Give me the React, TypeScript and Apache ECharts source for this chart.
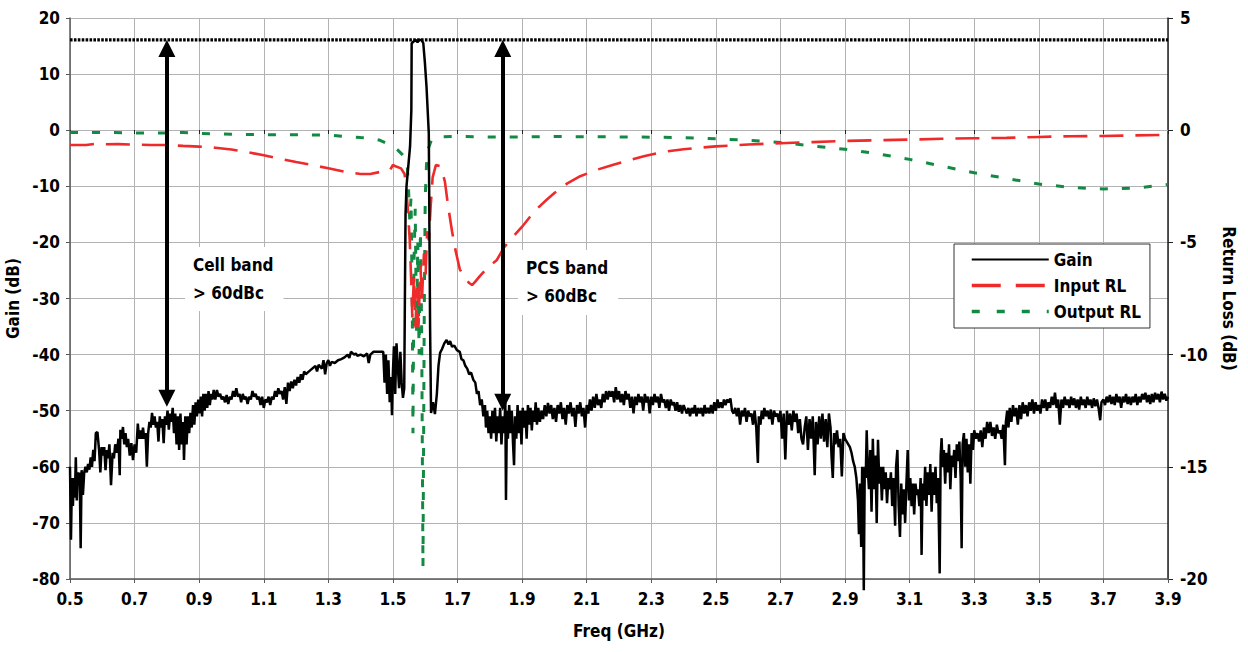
import React, { useEffect, useRef } from "react";
import * as echarts from "echarts";

const FONT = "'DejaVu Sans Condensed', 'Liberation Sans Narrow', 'Arial Narrow', sans-serif";

// Frequency axis ticks (GHz)
const freqMin = 0.5;
const freqMax = 3.9;
const freqStep = 0.2;

// Gain (dB) vs frequency (GHz), left axis
const gain: [number, number][] = [
  [0.500,-60],[0.503,-73],[0.506,-62],[0.509,-67],[0.512,-62],[0.515,-65.5],[0.518,-58.3],[0.521,-66],[0.524,-61],[0.527,-63],
  [0.530,-61],[0.533,-74.5],[0.536,-60.6],[0.540,-65],[0.544,-61],[0.548,-60],[0.552,-61],[0.556,-59.5],[0.560,-60.5],[0.564,-58.3],
  [0.568,-60],[0.572,-57],[0.576,-59],[0.580,-54],[0.585,-53.8],[0.590,-57],[0.594,-61],[0.598,-56.5],[0.602,-58],[0.606,-56.5],
  [0.610,-60.6],[0.614,-57],[0.618,-58.5],[0.622,-56],[0.627,-63.3],[0.632,-57.5],[0.636,-58.5],[0.640,-56],[0.645,-57.5],[0.650,-55],
  [0.654,-61.5],[0.656,-53.4],[0.660,-55],[0.664,-52.9],[0.668,-56],[0.672,-54],[0.676,-56.5],[0.680,-55],[0.685,-58],[0.690,-55.8],
  [0.695,-58.8],[0.700,-56],[0.705,-57.5],[0.710,-52.3],[0.714,-55],[0.718,-53.5],[0.722,-55],[0.726,-53],[0.730,-55],[0.734,-54],
  [0.738,-60],[0.742,-54],[0.746,-52],[0.750,-53],[0.754,-50.4],[0.758,-52.5],[0.762,-51],[0.766,-53],[0.770,-52],[0.774,-55.5],
  [0.778,-51],[0.782,-53],[0.786,-51.5],[0.790,-55.8],[0.794,-51],[0.798,-52.5],[0.802,-50],[0.806,-53.4],[0.810,-50.5],[0.814,-52],
  [0.818,-49.5],[0.822,-54],[0.826,-50.5],[0.830,-56],[0.834,-51],[0.838,-57],[0.842,-50.5],[0.846,-56],[0.850,-52],[0.853,-58.8],
  [0.857,-51],[0.861,-56],[0.865,-51],[0.869,-54],[0.873,-50.4],[0.877,-53],[0.881,-49],[0.885,-52.5],[0.889,-48.5],[0.893,-51],
  [0.897,-48],[0.901,-50.5],[0.905,-47.5],[0.909,-51],[0.913,-47],[0.917,-50],[0.921,-47],[0.925,-49.5],[0.929,-46.5],[0.933,-49],
  [0.937,-47],[0.941,-48],[0.945,-46.3],[0.950,-48],[0.955,-46.3],[0.960,-47.5],[0.965,-47],[0.970,-48],[0.975,-47.5],[0.980,-48.5],
  [0.985,-47.2],[0.990,-48.8],[0.995,-47.5],[1.000,-48],[1.005,-46.5],[1.010,-47.5],[1.015,-46],[1.020,-47.5],[1.025,-47],[1.030,-48.5],
  [1.035,-47],[1.040,-48],[1.045,-47.5],[1.050,-48.8],[1.055,-47.5],[1.060,-48],[1.065,-46.5],[1.070,-47.5],[1.075,-47],[1.080,-48],
  [1.085,-47.5],[1.090,-49],[1.095,-47.5],[1.100,-49.5],[1.105,-48],[1.110,-48.5],[1.115,-47.5],[1.120,-49],[1.125,-47.5],[1.130,-48],
  [1.135,-46.5],[1.140,-47.5],[1.145,-46],[1.150,-47],[1.155,-46.5],[1.160,-48],[1.165,-45.8],[1.170,-48.8],[1.175,-45],[1.180,-46.5],
  [1.185,-44.8],[1.190,-46],[1.195,-44.5],[1.200,-45.5],[1.205,-44],[1.210,-45],[1.215,-43.5],[1.220,-44.5],[1.225,-43],[1.230,-43.5],
  [1.240,-43],[1.250,-42.5],[1.260,-42],[1.265,-43],[1.270,-41.8],[1.280,-42.5],[1.285,-41],[1.290,-43.5],[1.295,-41.5],[1.300,-41],
  [1.305,-42],[1.310,-41.3],[1.320,-41.5],[1.330,-41],[1.340,-40.8],[1.350,-40.5],[1.360,-40],[1.365,-40.6],[1.370,-39.5],[1.380,-40],
  [1.385,-39.8],[1.390,-40.2],[1.400,-40],[1.410,-40.3],[1.420,-39.8],[1.425,-41.5],[1.430,-40],[1.440,-39.5],[1.450,-39.5],[1.460,-39.5],
  [1.470,-39.5],[1.474,-45],[1.478,-40],[1.482,-47],[1.486,-41],[1.490,-48.5],[1.494,-44],[1.497,-50.8],[1.500,-43],[1.503,-38.5],
  [1.507,-47],[1.511,-38],[1.515,-42],[1.519,-46],[1.523,-39.5],[1.527,-45],[1.531,-47.7],[1.535,-46],[1.537,-30],[1.539,-15],
  [1.542,-10],[1.553,-2.9],[1.557,3.6],[1.558,15.5],[1.564,15.8],[1.570,16.1],[1.576,15.7],[1.582,16.1],[1.588,16.1],[1.594,15.5],
  [1.599,12],[1.604,7.7],[1.611,-0.5],[1.615,-35],[1.618,-50.4],[1.624,-48.5],[1.630,-50.6],[1.636,-47],[1.641,-42],[1.646,-39.7],
  [1.652,-39],[1.659,-38],[1.666,-37.4],[1.672,-38.2],[1.677,-37.6],[1.683,-38.6],[1.690,-38.4],[1.698,-39.2],
  [1.707,-39.5],[1.712,-40.8],[1.718,-41],[1.724,-42],[1.730,-42.5],[1.736,-43.5],[1.742,-43.2],[1.749,-44.5],
  [1.755,-45],[1.760,-47],[1.765,-46.5],[1.770,-49],[1.775,-48],[1.780,-51],[1.785,-49],[1.788,-53],[1.792,-50],[1.796,-54],
  [1.800,-51],[1.804,-55],[1.808,-50],[1.812,-54],[1.816,-49.5],[1.820,-55.5],[1.824,-51],[1.828,-54],[1.832,-49.5],[1.836,-56],
  [1.840,-51],[1.844,-54],[1.848,-48.5],[1.850,-65.9],[1.853,-50],[1.856,-55],[1.860,-49],[1.864,-54],[1.868,-50],[1.872,-56],
  [1.875,-59.7],[1.878,-51],[1.882,-55],[1.886,-49],[1.890,-54],[1.894,-50],[1.898,-56],[1.902,-49.5],[1.906,-53],[1.910,-50],
  [1.914,-55],[1.918,-49],[1.922,-52.5],[1.926,-49.5],[1.930,-53.5],[1.934,-50],[1.938,-52],[1.942,-48.5],[1.946,-52.5],[1.950,-49.5],
  [1.955,-52],[1.960,-50],[1.965,-51.5],[1.970,-49],[1.975,-51],[1.980,-48.6],[1.985,-50.5],[1.990,-49],[1.995,-51.5],[2.000,-49.5],
  [2.005,-52],[2.010,-49],[2.015,-50.5],[2.020,-48.5],[2.025,-51.5],[2.030,-49.5],[2.035,-52.5],[2.040,-49],[2.045,-50.5],[2.050,-48.5],
  [2.055,-51],[2.060,-49.5],[2.065,-52.9],[2.070,-49],[2.075,-50.5],[2.080,-48.5],[2.085,-51],[2.090,-49.5],[2.095,-53],[2.100,-49],
  [2.105,-50.5],[2.110,-48],[2.115,-50],[2.120,-47.5],[2.125,-49.5],[2.130,-47],[2.135,-49],[2.140,-48],[2.145,-49.5],[2.150,-47],
  [2.155,-48.5],[2.160,-46.5],[2.165,-48],[2.170,-46.5],[2.175,-47.5],[2.180,-46.5],[2.185,-48.5],[2.190,-45.8],[2.195,-48],[2.200,-46.5],
  [2.205,-48.5],[2.210,-47],[2.215,-49],[2.220,-46.5],[2.225,-48],[2.230,-47],[2.235,-49.5],[2.240,-47.5],[2.245,-50.5],[2.250,-47.5],
  [2.255,-49],[2.260,-47],[2.265,-48.5],[2.270,-47.5],[2.275,-50],[2.280,-47],[2.285,-48.5],[2.290,-47.5],[2.295,-50.5],[2.300,-47.5],
  [2.305,-49],[2.310,-47],[2.315,-48.5],[2.320,-47.5],[2.325,-49.5],[2.330,-47],[2.335,-48.5],[2.340,-48],[2.345,-49.5],[2.350,-48],
  [2.355,-50],[2.360,-48],[2.365,-49],[2.370,-48.5],[2.375,-50],[2.380,-48.5],[2.385,-50.2],[2.390,-49],[2.395,-50.5],[2.400,-49],
  [2.410,-50.5],[2.415,-49.5],[2.420,-51],[2.425,-49.5],[2.430,-50.5],[2.435,-49],[2.440,-51],[2.445,-49.5],[2.450,-50.5],[2.455,-49.5],
  [2.460,-51],[2.465,-49],[2.470,-50.5],[2.475,-49.5],[2.480,-50.5],[2.485,-49],[2.490,-50.5],[2.495,-48.5],[2.500,-50],[2.505,-48],
  [2.510,-49.5],[2.515,-48.5],[2.520,-49.5],[2.525,-48],[2.530,-49],[2.535,-48],[2.540,-48.5],[2.545,-47.8],[2.550,-50],[2.555,-50.5],
  [2.560,-49.5],[2.565,-51],[2.570,-49.5],[2.575,-52.5],[2.580,-50],[2.585,-51],[2.590,-49.5],[2.595,-52],[2.600,-50],[2.605,-51],
  [2.610,-50.5],[2.615,-52.5],[2.620,-50],[2.625,-53],[2.630,-59.3],[2.633,-51],[2.638,-52.5],[2.642,-50],[2.646,-51.5],[2.650,-49.5],
  [2.655,-51],[2.660,-50],[2.665,-51.5],[2.670,-49.8],[2.675,-52.5],[2.680,-50],[2.685,-51],[2.690,-50.5],[2.695,-52],[2.700,-50],
  [2.705,-55],[2.710,-50.5],[2.715,-58.7],[2.720,-50],[2.725,-52.5],[2.730,-50.5],[2.735,-53.5],[2.740,-50],[2.745,-52],[2.750,-50.5],
  [2.755,-54],[2.760,-51.5],[2.765,-55],[2.770,-56],[2.775,-53],[2.780,-51],[2.785,-57],[2.790,-51.5],[2.795,-55],[2.800,-51],
  [2.806,-61.5],[2.810,-52],[2.815,-56],[2.820,-51],[2.825,-55],[2.830,-50.5],[2.835,-55.5],[2.840,-51.5],[2.845,-56.5],[2.850,-50.5],
  [2.855,-53],[2.858,-58],[2.862,-62],[2.866,-54],[2.870,-56],[2.875,-53.5],[2.880,-56.5],[2.885,-55],[2.890,-61.7],[2.895,-54],
  [2.900,-55],[2.905,-55.5],[2.910,-56],[2.915,-56.5],[2.920,-57.5],[2.925,-59],[2.930,-60],[2.935,-62],[2.940,-66],[2.943,-72],
  [2.946,-63],[2.950,-74.3],[2.953,-60],[2.956,-67],[2.958,-82],[2.961,-60],[2.964,-62],[2.967,-53.5],[2.970,-60],[2.974,-64],
  [2.978,-57],[2.982,-68],[2.986,-55],[2.990,-64],[2.994,-58],[2.998,-70],[3.002,-55.2],[3.006,-63],[3.010,-60],[3.014,-66],
  [3.018,-60],[3.022,-64],[3.026,-61],[3.030,-66.5],[3.034,-62],[3.038,-64],[3.042,-61],[3.046,-67],[3.050,-62],[3.055,-70.5],
  [3.058,-60],[3.062,-57],[3.066,-67],[3.070,-72.5],[3.074,-63],[3.078,-68.5],[3.082,-64],[3.086,-70],[3.090,-63],[3.094,-57],
  [3.098,-66],[3.102,-62],[3.106,-67],[3.110,-63],[3.114,-68.5],[3.118,-63],[3.122,-65],[3.126,-64],[3.130,-67],[3.134,-62],
  [3.137,-75.7],[3.140,-63],[3.144,-66],[3.148,-60],[3.152,-67],[3.156,-61],[3.160,-65],[3.164,-59.5],[3.168,-68],[3.172,-61],
  [3.176,-65],[3.180,-60],[3.184,-66.5],[3.188,-62],[3.193,-79],[3.196,-58],[3.199,-54.9],[3.202,-60],[3.206,-57],[3.210,-63],
  [3.214,-57.5],[3.218,-61],[3.222,-56],[3.226,-64],[3.230,-58],[3.234,-60],[3.238,-57],[3.242,-62],[3.246,-56],[3.250,-59],
  [3.254,-55.5],[3.258,-62],[3.261,-74.5],[3.264,-56],[3.268,-54],[3.272,-60],[3.276,-55],[3.280,-61],[3.284,-56],[3.288,-63],
  [3.292,-54],[3.296,-57],[3.300,-53.5],[3.305,-55],[3.310,-54],[3.315,-55.5],[3.320,-53.5],[3.325,-56.5],[3.330,-53],[3.335,-55],
  [3.340,-52],[3.345,-54],[3.350,-52],[3.355,-54.5],[3.360,-53],[3.365,-55],[3.370,-52.5],[3.375,-54],[3.380,-53.5],[3.385,-55],
  [3.390,-52.5],[3.395,-59.7],[3.398,-52],[3.402,-50],[3.406,-53],[3.410,-49.5],[3.415,-52],[3.420,-49],[3.425,-51],[3.430,-49.5],
  [3.435,-52.5],[3.440,-49],[3.445,-51.5],[3.450,-48.5],[3.455,-50.5],[3.460,-49],[3.465,-51],[3.470,-48.5],[3.475,-50],[3.480,-48],
  [3.485,-50.5],[3.490,-48.5],[3.495,-50],[3.500,-49],[3.505,-50.5],[3.510,-48],[3.515,-49.5],[3.520,-48],[3.525,-50],[3.530,-48.5],
  [3.535,-49.5],[3.540,-47.5],[3.545,-49],[3.550,-46.8],[3.555,-49.5],[3.560,-48],[3.565,-52.5],[3.570,-48],[3.575,-49.5],[3.580,-47.5],
  [3.585,-49],[3.590,-48],[3.595,-49.5],[3.600,-47.5],[3.605,-49],[3.610,-47.8],[3.615,-49.5],[3.620,-48],[3.625,-49.8],[3.630,-47.5],
  [3.635,-49],[3.640,-48],[3.645,-49.5],[3.650,-47.5],[3.655,-49],[3.660,-48],[3.665,-49.5],[3.670,-47.8],[3.675,-49.2],[3.680,-48],
  [3.685,-49.5],[3.690,-51.7],[3.694,-48.5],[3.700,-48],[3.705,-49],[3.710,-47.5],[3.715,-48.5],[3.720,-47.2],[3.725,-48.8],[3.730,-47.5],
  [3.735,-49],[3.740,-47],[3.745,-48.5],[3.750,-47.5],[3.755,-49.5],[3.760,-47.5],[3.765,-48.5],[3.770,-47],[3.775,-48.8],[3.780,-47.5],
  [3.785,-49],[3.790,-47.5],[3.795,-48.5],[3.800,-47],[3.805,-49],[3.810,-47.5],[3.815,-48.5],[3.820,-47],[3.825,-48],[3.830,-46.8],
  [3.835,-48.5],[3.840,-47.2],[3.845,-48.8],[3.850,-47],[3.855,-48.5],[3.860,-46.8],[3.865,-48],[3.870,-47],[3.875,-48.5],[3.880,-46.6],
  [3.885,-48],[3.890,-47],[3.895,-48.2],[3.900,-47.5],
];

// Input return loss (dB), right axis
const inputRL: [number, number][] = [
  [0.50,-0.66],[0.55,-0.66],[0.58,-0.60],[0.60,-0.63],[0.65,-0.62],[0.70,-0.64],[0.75,-0.66],[0.80,-0.66],[0.85,-0.70],[0.90,-0.73],
  [0.95,-0.78],[1.00,-0.86],[1.05,-0.98],[1.10,-1.12],[1.15,-1.27],[1.20,-1.42],[1.25,-1.55],[1.30,-1.70],[1.35,-1.85],[1.40,-1.95],
  [1.43,-1.95],[1.46,-1.86],[1.49,-1.80],[1.50,-1.55],[1.51,-1.62],[1.525,-1.70],[1.536,-1.95],[1.541,-2.6],[1.546,-3.5],[1.552,-4.9],
  [1.556,-6.5],[1.560,-8.35],[1.565,-6.5],[1.570,-8.8],[1.575,-7],[1.579,-8.8],[1.585,-6],[1.590,-7.5],[1.596,-5.5],[1.601,-6.5],
  [1.606,-4.5],[1.611,-4.9],[1.617,-3.35],[1.623,-2.1],[1.633,-1.55],[1.645,-1.6],[1.652,-1.8],[1.661,-2.3],[1.671,-3.4],[1.683,-4.5],
  [1.693,-5.3],[1.707,-6.2],[1.72,-6.5],[1.735,-6.8],[1.745,-6.9],[1.755,-6.75],[1.769,-6.5],[1.795,-6.1],[1.821,-5.8],
  [1.845,-5.2],[1.872,-4.75],[1.90,-4.3],[1.924,-3.87],[1.95,-3.45],[1.976,-3.1],[2.00,-2.8],[2.04,-2.37],[2.08,-2.05],[2.13,-1.77],
  [2.18,-1.55],[2.234,-1.33],[2.28,-1.15],[2.336,-0.97],[2.40,-0.85],[2.45,-0.78],[2.50,-0.72],[2.60,-0.64],[2.70,-0.58],[2.80,-0.53],
  [2.90,-0.48],[3.00,-0.45],[3.10,-0.42],[3.20,-0.38],[3.30,-0.36],[3.40,-0.34],[3.50,-0.30],[3.60,-0.27],[3.70,-0.26],[3.80,-0.23],
  [3.90,-0.21],
];

// Output return loss (dB), right axis
const outputRL: [number, number][] = [
  [0.50,-0.10],[0.60,-0.10],[0.70,-0.12],[0.80,-0.12],[0.85,-0.10],[0.90,-0.15],[1.00,-0.18],[1.10,-0.20],[1.20,-0.20],[1.30,-0.22],
  [1.35,-0.28],[1.40,-0.33],[1.43,-0.35],[1.46,-0.45],[1.48,-0.58],[1.50,-0.70],[1.516,-0.9],[1.53,-1.1],[1.543,-1.3],[1.548,-2.5],
  [1.552,-4],[1.556,-3],[1.560,-8],[1.562,-13.5],[1.565,-6],[1.569,-3.5],[1.573,-9],[1.577,-5],[1.581,-10],[1.585,-4.5],
  [1.589,-9],[1.593,-19.45],[1.597,-8],[1.600,-3],[1.604,-1.5],[1.610,-0.8],[1.62,-0.4],[1.64,-0.3],[1.70,-0.28],
  [1.80,-0.30],[1.90,-0.30],[2.00,-0.28],[2.10,-0.29],[2.20,-0.30],[2.30,-0.31],[2.40,-0.33],[2.50,-0.38],[2.60,-0.45],[2.70,-0.55],
  [2.80,-0.70],[2.90,-0.85],[3.00,-1.05],[3.10,-1.30],[3.20,-1.60],[3.30,-1.90],[3.40,-2.15],[3.50,-2.40],[3.60,-2.55],[3.70,-2.62],
  [3.80,-2.58],[3.90,-2.42],
];

// Reference level (peak gain) and rejection arrows
const peakLevel = 16.1;
const arrowFreqs = [0.8, 1.84];
const arrowBottoms = [-49.3, -50];
const bandLabels = ["Cell band\n> 60dBc", "PCS band\n> 60dBc"];

const GRID = { left: 70, right: 80, top: 18, bottom: 73 };
const HEIGHT = 652;
const HEAD = 17;

export default function App() {
  const ref = useRef<HTMLDivElement>(null);
  useEffect(() => {
    if (!ref.current) return;
    const chart = echarts.init(ref.current, undefined, { renderer: "svg" });
    const txt = { fontFamily: FONT, fontWeight: "bold" as const, color: "#000", fontSize: 17 };
    const axisColor = "#5a5a5a";
    const gridColor = "#b3b3b3";
    // half arrow head expressed in left-axis units, so the arrow tips touch the data points
    const dbPerPx = 100 / (HEIGHT - GRID.top - GRID.bottom);
    const headDb = (HEAD / 2) * dbPerPx;
    chart.setOption({
      animation: false,
      backgroundColor: "#fff",
      grid: { ...GRID, containLabel: false, outerBoundsMode: "none" },
      legend: {
        data: [
          { name: "Gain", lineStyle: { width: 2.2 } },
          { name: "Input RL", lineStyle: { width: 3.5, type: [29, 15] } },
          { name: "Output RL", lineStyle: { width: 3.5, type: [8, 17] } },
        ],
        orient: "vertical",
        left: 954,
        top: 244,
        borderColor: "#333",
        borderWidth: 1,
        padding: [7, 9, 8, 16],
        itemWidth: 77,
        itemHeight: 16,
        itemGap: 9,
        itemStyle: { color: "rgba(0,0,0,0)", borderWidth: 0, opacity: 0 },
        textStyle: { ...txt },
        backgroundColor: "#fff",
      },
      xAxis: [
        {
          type: "value",
          min: freqMin,
          max: freqMax,
          interval: freqStep,
          name: "Freq (GHz)",
          nameLocation: "middle",
          nameGap: 43,
          nameTextStyle: { ...txt },
          axisLine: { show: true, onZero: false, lineStyle: { color: axisColor, width: 1.5 } },
          axisTick: { show: true, length: 4, lineStyle: { color: axisColor } },
          axisLabel: { ...txt, margin: 11, formatter: (v: number) => v.toFixed(1) },
          splitLine: { show: true, lineStyle: { color: gridColor, width: 1 } },
        },
        {
          type: "value",
          min: freqMin,
          max: freqMax,
          interval: freqStep,
          position: "top",
          offset: -112,
          axisLine: { show: true, onZero: false, lineStyle: { color: gridColor, width: 1 } },
          axisTick: { show: true, inside: true, length: 4, lineStyle: { color: "#222", width: 1 } },
          axisLabel: { show: false },
          splitLine: { show: false },
        },
      ],
      yAxis: [
        {
          type: "value",
          min: -80,
          max: 20,
          interval: 10,
          position: "left",
          name: "Gain (dB)",
          nameLocation: "middle",
          nameRotate: 90,
          nameGap: 46,
          nameTextStyle: { ...txt },
          axisLine: { show: true, onZero: false, lineStyle: { color: axisColor, width: 1.5 } },
          axisTick: { show: true, length: 4, lineStyle: { color: axisColor } },
          axisLabel: { ...txt, margin: 10 },
          splitLine: { show: true, lineStyle: { color: gridColor, width: 1 } },
        },
        {
          type: "value",
          min: -20,
          max: 5,
          interval: 5,
          position: "right",
          name: "Return Loss (dB)",
          nameLocation: "middle",
          nameRotate: -90,
          nameGap: 52,
          nameTextStyle: { ...txt },
          axisLine: { show: true, onZero: false, lineStyle: { color: "#222", width: 1.5 } },
          axisTick: { show: true, length: 5, lineStyle: { color: "#222" } },
          axisLabel: { ...txt, margin: 12 },
          splitLine: { show: false },
        },
      ],
      series: [
        {
          name: "Peak",
          type: "line",
          data: [[freqMin, peakLevel], [freqMax, peakLevel]],
          symbol: "none",
          silent: true,
          z: 3,
          lineStyle: { color: "#000", width: 3.4, type: [2.6, 1.3] },
        },
        {
          name: "Output RL",
          type: "line",
          yAxisIndex: 1,
          data: outputRL,
          symbol: "none",
          color: "#138a43",
          lineStyle: { color: "#138a43", width: 3, type: [8, 14] },
          z: 4,
        },
        {
          name: "Input RL",
          type: "line",
          yAxisIndex: 1,
          data: inputRL,
          symbol: "none",
          color: "#ee2a2a",
          lineStyle: { color: "#ee2a2a", width: 2.6, type: [24, 12] },
          z: 4,
        },
        {
          name: "Gain",
          type: "line",
          data: gain,
          symbol: "none",
          clip: false,
          color: "#000",
          lineStyle: { color: "#000", width: 2.5 },
          z: 5,
          markLine: {
            silent: true,
            symbol: ["triangle", "triangle"],
            symbolSize: [HEAD, HEAD],
            label: { show: false },
            lineStyle: { color: "#000", width: 4, type: "solid" },
            data: arrowFreqs.map((f, i) => [
              { coord: [f, peakLevel - headDb] },
              { coord: [f, arrowBottoms[i] + headDb] },
            ]),
          },
        },
      ],
      graphic: [
        {
          type: "text",
          left: 185,
          top: 247,
          z: 1,
          style: {
            text: bandLabels[0],
            font: `bold 17px ${FONT}`,
            lineHeight: 28,
            fill: "#000",
            backgroundColor: "#fff",
            padding: [4, 10, 4, 8],
          },
        },
        {
          type: "text",
          left: 518,
          top: 250,
          z: 1,
          style: {
            text: bandLabels[1],
            font: `bold 17px ${FONT}`,
            lineHeight: 28,
            fill: "#000",
            backgroundColor: "#fff",
            padding: [4, 10, 5, 8],
          },
        },
      ],
    });
    return () => chart.dispose();
  }, []);
  return (
    <div
      ref={ref}
      style={{ position: "fixed", left: 0, top: 0, width: 1248, height: HEIGHT, background: "#fff" }}
    />
  );
}
